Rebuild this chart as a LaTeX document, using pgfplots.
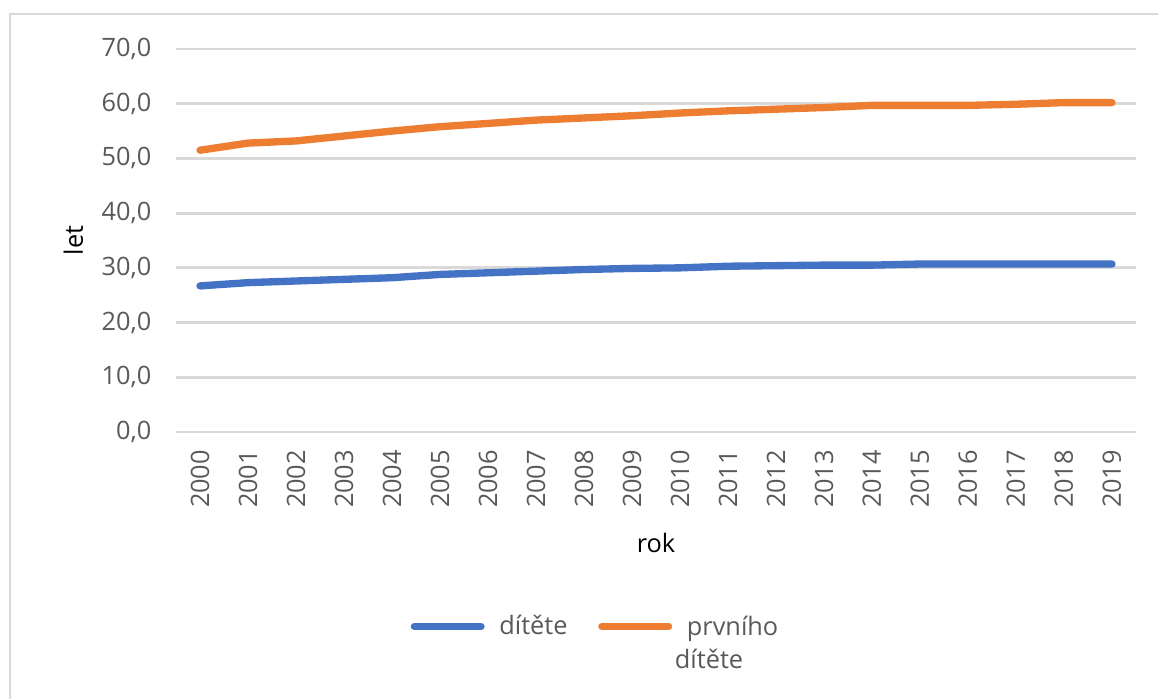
\documentclass[border=0pt]{standalone}
\usepackage{fontspec}
\setmainfont{Open Sans}
\usepackage{pgfplots}
\pgfplotsset{compat=1.18}
\definecolor{serBlue}{HTML}{4472C4}
\definecolor{serOrange}{HTML}{ED7D31}
\definecolor{txt}{HTML}{595959}
\definecolor{gridc}{HTML}{D9D9D9}
\begin{document}
\fontsize{19}{23}\selectfont
\begin{tikzpicture}
\useasboundingbox (0,0) rectangle (868.5pt,-524.25pt);
% chart area frame
\draw[gridc, line width=2pt] (7.5pt,-540pt) -- (7.5pt,-10.5pt) -- (880pt,-10.5pt);
\begin{axis}[
  at={(132pt,-324pt)}, anchor=south west,
  scale only axis, width=720pt, height=287.25pt,
  xmin=1999.5, xmax=2019.5, ymin=0, ymax=70,
  xtick={2000,...,2019}, ytick={0,10,...,70},
  axis line style={draw=none},
  tick style={draw=none},
  ymajorgrids, grid style={gridc, line width=2.2pt},
  font=\fontsize{19}{23}\selectfont,
  tick label style={txt},
  /pgf/number format/assume math mode=true,
  x tick label style={/pgf/number format/1000 sep={}, rotate=90, anchor=east, xshift=-7pt},
  y tick label style={/pgf/number format/.cd, fixed, fixed zerofill, precision=1, use comma, /tikz/.cd, xshift=-12pt},
  xlabel={rok}, ylabel={let},
  label style={txt},
  every axis x label/.style={at={(axis description cs:0.5,-0.289)}, anchor=center},
  every axis y label/.style={at={(axis description cs:-0.107,0.5)}, anchor=center, rotate=90},
  legend columns=2,
  legend style={draw=none, fill=none, text=txt, at={(axis description cs:0.24,-0.46)}, anchor=north west,
    /tikz/every odd column/.append style={column sep=9pt},
    /tikz/every even column/.append style={column sep=21pt}},
  legend image code/.code={\draw[#1] (0pt,0pt) -- (50pt,0pt);},
  legend cell align=left,
]
\addplot[serBlue, line width=5.5pt, line cap=round, line join=round] coordinates {
 (2000,26.7) (2001,27.3) (2002,27.6) (2003,27.9) (2004,28.2) (2005,28.8)
 (2006,29.1) (2007,29.4) (2008,29.7) (2009,29.9) (2010,30.0) (2011,30.3)
 (2012,30.4) (2013,30.5) (2014,30.5) (2015,30.7) (2016,30.7) (2017,30.7)
 (2018,30.7) (2019,30.7)};
\addlegendentry{dítěte}
\addplot[serOrange, line width=5.5pt, line cap=round, line join=round] coordinates {
 (2000,51.5) (2001,52.8) (2002,53.2) (2003,54.1) (2004,55.0) (2005,55.8)
 (2006,56.4) (2007,57.0) (2008,57.4) (2009,57.8) (2010,58.3) (2011,58.7)
 (2012,59.0) (2013,59.3) (2014,59.7) (2015,59.7) (2016,59.7) (2017,59.9)
 (2018,60.2) (2019,60.2)};
\addlegendentry{\begin{tabular}[t]{@{}l@{}}prvního\\[2pt]\hspace*{-9pt}dítěte\end{tabular}}
\end{axis}
\end{tikzpicture}
\end{document}
